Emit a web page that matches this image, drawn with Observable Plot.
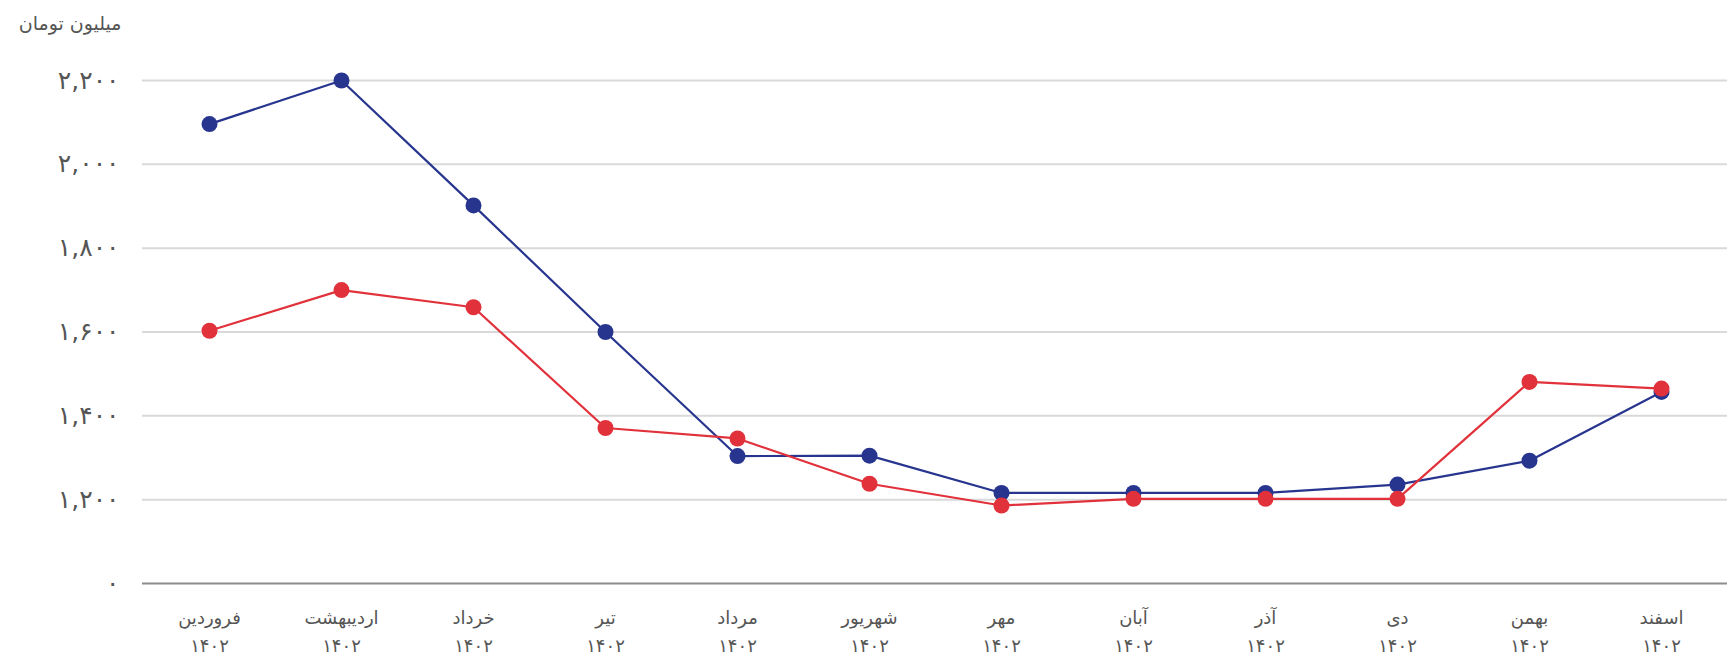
<!DOCTYPE html>
<html>
<head>
<meta charset="utf-8">
<script src="https://cdn.jsdelivr.net/npm/d3@7"></script>
<script src="https://cdn.jsdelivr.net/npm/@observablehq/plot@0.6"></script>
<style>
  html, body { margin: 0; padding: 0; background: #ffffff; }
  #chart svg { display: block; }
</style>
</head>
<body>
<div id="chart"></div>
<script>
const months = ["فروردین","اردیبهشت","خرداد","تیر","مرداد","شهریور","مهر","آبان","آذر","دی","بهمن","اسفند"];
const yearLabel = "۱۴۰۲";
const blueValues = [2096, 2200, 1902, 1600, 1304, 1305, 1216, 1216, 1216, 1236, 1293, 1457];
const redValues  = [1603, 1700, 1659, 1371, 1346, 1238, 1186, 1202, 1202, 1202, 1481, 1465];
const yTickValues = [1000, 1200, 1400, 1600, 1800, 2000, 2200];
const yTickLabels = ["۰", "۱,۲۰۰", "۱,۴۰۰", "۱,۶۰۰", "۱,۸۰۰", "۲,۰۰۰", "۲,۲۰۰"];
const yTitle = "میلیون تومان";

const blueColor = "#27358f";
const redColor = "#e1323b";

const blueData = months.map((m, i) => ({month: m, value: blueValues[i]}));
const redData = months.map((m, i) => ({month: m, value: redValues[i]}));
const labelOf = new Map(yTickValues.map((v, i) => [v, yTickLabels[i]]));

const chart = Plot.plot({
  width: 1727,
  height: 655,
  marginLeft: 142,
  marginRight: 0,
  marginTop: 80,
  marginBottom: 72,
  style: {fontFamily: "'DejaVu Sans', sans-serif", background: "#ffffff"},
  x: {type: "point", domain: months, padding: 0.47},
  y: {domain: [1000, 2200]},
  marks: [
    Plot.ruleY(yTickValues.filter(v => v !== 1000), {stroke: "#d9d9d9", strokeWidth: 2}),
    Plot.ruleY([1000], {stroke: "#8c8c8c", strokeWidth: 2}),
    Plot.axisY({
      ticks: yTickValues,
      tickSize: 0,
      tickPadding: 23,
      tickFormat: d => labelOf.get(d),
      fontSize: 25,
      fill: "#555555",
      label: null
    }),
    Plot.axisX({
      tickSize: 0,
      tickPadding: 21,
      tickFormat: d => d + "\n" + yearLabel,
      fontSize: 18,
      lineHeight: 1.55,
      fill: "#555555",
      label: null
    }),
    Plot.text([yTitle], {
      frameAnchor: "top-left",
      dx: -21,
      dy: -64,
      textAnchor: "end",
      fontSize: 19,
      fill: "#555555"
    }),
    Plot.line(blueData, {x: "month", y: "value", stroke: blueColor, strokeWidth: 2.2}),
    Plot.dot(blueData, {x: "month", y: "value", r: 8, fill: blueColor, stroke: "none"}),
    Plot.line(redData, {x: "month", y: "value", stroke: redColor, strokeWidth: 2.2}),
    Plot.dot(redData, {x: "month", y: "value", r: 8, fill: redColor, stroke: "none"})
  ]
});
document.getElementById("chart").appendChild(chart);
</script>
</body>
</html>
